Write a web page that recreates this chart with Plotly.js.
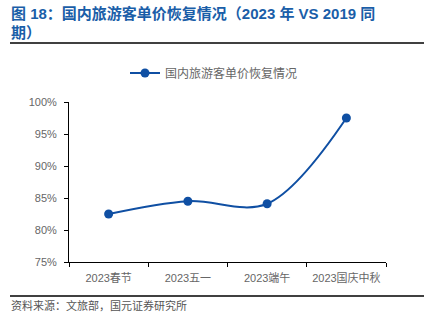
<!DOCTYPE html>
<html><head><meta charset="utf-8">
<script src="https://cdn.plot.ly/plotly-3.0.1.min.js"></script>
<style>html,body{margin:0;padding:0;background:#fff}#c{width:424px;height:323px}</style>
</head><body><div id="c"></div>
<script>
const categories = ["2023春节", "2023五一", "2023端午", "2023国庆中秋"];
const values = [0.825, 0.845, 0.841, 0.975];
const seriesName = "国内旅游客单价恢复情况";
const yTicks = [0.75, 0.80, 0.85, 0.90, 0.95, 1.00];
const yTickText = ["75%", "80%", "85%", "90%", "95%", "100%"];

const cjk = '"Liberation Sans", Arial, "Noto Sans CJK SC", sans-serif';
const trace = {
  x: categories, y: values, name: seriesName, type: 'scatter', mode: 'lines+markers',
  line: {color: '#0f4fa3', width: 2, shape: 'spline', smoothing: 1},
  marker: {color: '#0f4fa3', size: 9}
};
const plotW = 424 - 69 - 38, plotH = 323 - 102 - 61;
const px = x => (x - 69) / plotW;
const py = y => (323 - 61 - y) / plotH;
const layout = {
  width: 424, height: 323,
  margin: {l: 69, r: 38, t: 102, b: 61, autoexpand: false},
  paper_bgcolor: '#fff', plot_bgcolor: '#fff',
  showlegend: true,
  legend: {orientation: 'h', x: px(214), xanchor: 'center', y: py(73), yanchor: 'middle',
    font: {family: cjk, size: 12, color: '#666'}},
  xaxis: {type: 'category', range: [-0.5, 3.5], showline: true, linecolor: '#000', linewidth: 1, ticks: 'outside',
    ticklen: 4, tickcolor: '#000', tickson: 'boundaries', showgrid: false, zeroline: false,
    automargin: false, tickangle: 0, ticklabelstandoff: 6,
    tickfont: {family: cjk, size: 11, color: '#666'}},
  yaxis: {range: [0.75, 1.0], tickvals: yTicks, ticktext: yTickText, showline: true, linecolor: '#000',
    linewidth: 1, ticks: 'outside', ticklen: 4, tickcolor: '#000', showgrid: false, zeroline: false,
    automargin: false, ticklabelstandoff: 5,
    tickfont: {family: cjk, size: 11, color: '#666'}},
  annotations: [
    {text: '<b>图 18：国内旅游客单价恢复情况（2023 年 VS 2019 同</b>', xref: 'paper', yref: 'paper',
      x: px(9), y: py(13), xanchor: 'left', yanchor: 'middle', showarrow: false,
      font: {family: cjk, size: 15, color: '#1a5ea8'}},
    {text: '<b>期）</b>', xref: 'paper', yref: 'paper', x: px(9), y: py(32), xanchor: 'left', yanchor: 'middle',
      showarrow: false, font: {family: cjk, size: 15, color: '#1a5ea8'}},
    {text: '资料来源：文旅部，国元证券研究所', xref: 'paper', yref: 'paper', x: px(9), y: py(305),
      xanchor: 'left', yanchor: 'middle', showarrow: false, font: {family: cjk, size: 11, color: '#555'}}
  ],
  shapes: [
    {type: 'line', xref: 'paper', yref: 'paper', x0: px(10), x1: px(424), y0: py(43), y1: py(43),
      line: {color: '#000', width: 1.5}},
    {type: 'line', xref: 'paper', yref: 'paper', x0: px(10), x1: px(424), y0: py(296), y1: py(296),
      line: {color: '#000', width: 1.5}}
  ]
};
Plotly.newPlot('c', [trace], layout, {displayModeBar: false, staticPlot: true});
</script></body></html>
